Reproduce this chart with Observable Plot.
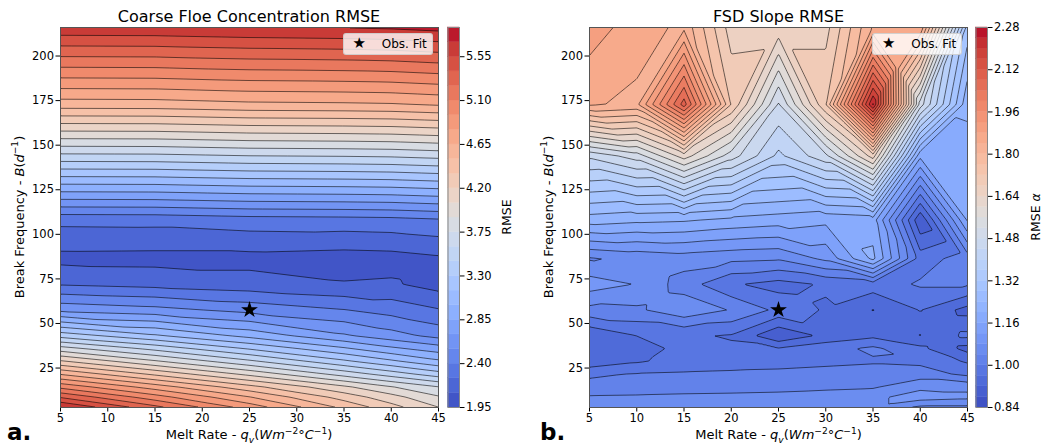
<!DOCTYPE html>
<html><head><meta charset="utf-8">
<script src="https://cdn.jsdelivr.net/npm/d3@7"></script>
<script src="https://cdn.jsdelivr.net/npm/@observablehq/plot@0.6"></script>
<style>
body{margin:0;background:#fff;}
#fig{position:relative;width:1042px;height:446px;overflow:hidden;font-family:"DejaVu Sans",sans-serif;color:#000;}
.t{position:absolute;white-space:nowrap;line-height:1;}
sup,sub{font-size:70%;line-height:0;}
.legend{position:absolute;background:rgba(255,255,255,0.8);border:1px solid rgba(200,200,200,0.8);border-radius:3px;box-sizing:border-box;}
svg{position:absolute;}
</style></head>
<body><div id="fig"></div>
<script>
// ---- data ----
const breakFreq = [216, 172.8, 144, 108, 86.4, 72, 57.6, 43.2, 36, 28.8, 21.6, 14.4, 8.64, 2.88];
// Coarse floe concentration RMSE (rows follow breakFreq, columns follow concMelt)
const concMelt = [5, 15, 25, 35, 40, 45];
const concRMSE = [
  [5.66, 5.665, 5.69, 5.705, 5.72, 5.75],
  [4.575, 4.58, 4.615, 4.625, 4.635, 4.665],
  [3.56, 3.565, 3.598, 3.609, 3.62, 3.649],
  [2.29, 2.295, 2.33, 2.34, 2.35, 2.38],
  [2.055, 2.05, 2.05, 2.03, 2.04, 2.077],
  [2.238, 2.20, 2.16, 2.11, 2.12, 2.04],
  [2.66, 2.60, 2.50, 2.405, 2.34, 2.26],
  [3.39, 3.17, 2.95, 2.72, 2.61, 2.50],
  [3.81, 3.55, 3.28, 3.02, 2.88, 2.77],
  [4.22, 3.92, 3.63, 3.33, 3.18, 3.03],
  [4.64, 4.32, 4.01, 3.69, 3.53, 3.37],
  [5.06, 4.73, 4.40, 4.08, 3.91, 3.755],
  [5.39, 5.02, 4.66, 4.29, 4.11, 3.92],
  [5.72, 5.30, 4.89, 4.47, 4.26, 4.055]
];
// FSD slope RMSE (rows follow breakFreq, columns follow slopeMelt)
const slopeMelt = [5, 10, 15, 20, 25, 30, 35, 40, 45];
const slopeRMSE = [
  [1.90, 1.86, 1.83, 1.66, 1.665, 1.665, 1.845, 1.875, 1.30],
  [1.845, 1.83, 2.10, 1.718, 1.475, 1.718, 2.245, 1.50, 1.21],
  [1.45, 1.50, 1.62, 1.50, 1.39, 1.47, 1.66, 1.17, 1.18],
  [1.22, 1.21, 1.205, 1.19, 1.18, 1.17, 1.18, 0.885, 1.165],
  [1.036, 1.05, 1.06, 1.05, 1.045, 1.09, 1.21, 0.98, 1.02],
  [1.10, 1.078, 1.02, 0.965, 0.945, 0.965, 0.98, 1.005, 1.005],
  [1.028, 1.0325, 1.07, 1.037, 0.99, 0.955, 0.919, 0.962, 0.905],
  [0.925, 0.9605, 0.965, 0.957, 0.885, 0.931, 0.95, 0.919, 0.97],
  [0.922, 0.945, 0.97, 0.965, 0.962, 0.985, 1.008, 0.97, 0.905],
  [0.93, 0.955, 0.975, 0.98, 0.985, 0.99, 0.995, 0.99, 0.955],
  [0.995, 1.002, 1.005, 1.008, 1.01, 1.015, 1.02, 1.02, 0.99],
  [1.01, 1.015, 1.02, 1.022, 1.025, 1.03, 1.035, 1.07, 1.07],
  [1.045, 1.047, 1.05, 1.052, 1.055, 1.062, 1.07, 1.10, 1.09],
  [1.05, 1.055, 1.06, 1.06, 1.06, 1.065, 1.07, 1.03, 1.03]
];
const concLevels = [1.95,2.10,2.25,2.40,2.55,2.70,2.85,3.00,3.15,3.30,3.45,3.60,3.75,3.90,4.05,4.20,4.35,4.50,4.65,4.80,4.95,5.10,5.25,5.40,5.55,5.70,5.85];
const slopeLevels = [0.84,0.88,0.92,0.96,1.00,1.04,1.08,1.12,1.16,1.20,1.24,1.28,1.32,1.36,1.40,1.44,1.48,1.52,1.56,1.60,1.64,1.68,1.72,1.76,1.80,1.84,1.88,1.92,1.96,2.00,2.04,2.08,2.12,2.16,2.20,2.24,2.28];
const concTicks = [1.95,2.40,2.85,3.30,3.75,4.20,4.65,5.10,5.55];
const slopeTicks = [0.84,1.00,1.16,1.32,1.48,1.64,1.80,1.96,2.12,2.28];
const xTicks = [5,10,15,20,25,30,35,40,45];
const yTicks = [25,50,75,100,125,150,175,200];
const obsFit = [{x: 25, y: 57.6}];

// ---- coolwarm colormap anchors ----
const coolwarmStops = [[59,76,192],[68,90,204],[77,104,215],[87,117,225],[98,130,234],[108,142,241],[119,154,247],[130,165,251],[141,176,254],[152,185,255],[163,194,255],[174,201,253],[184,208,249],[194,213,244],[204,217,238],[213,219,230],[221,221,221],[229,216,209],[236,211,197],[241,204,184],[245,196,172],[247,187,160],[247,177,148],[247,166,135],[244,154,123],[241,141,111],[236,127,99],[229,112,88],[222,96,77],[213,80,66],[203,62,56],[192,40,47],[180,4,38]].map(c=>`rgb(${c})`);
const coolwarm = d3.piecewise(d3.interpolateRgb, coolwarmStops);

const fig = document.getElementById("fig");

// grid interpolator: piecewise-linear on triangles per cell (marching-squares-like);
// saddle cells use a centre value (mean of corners) like matplotlib's saddle rule
function gridInterpolator(nx, ny) {
  function seg(a, v) {
    const n = a.length, inc = a[n-1] > a[0];
    let k = 0;
    while (k < n - 2 && (inc ? v > a[k+1] : v < a[k+1])) k++;
    const t = (v - a[k]) / (a[k+1] - a[k]);
    return [k, Math.max(0, Math.min(1, t))];
  }
  return (index, w, h, X, Y, V) => {
    const cx = [], ry = [];
    for (let i = 0; i < nx; i++) cx.push(X[i]);
    for (let j = 0; j < ny; j++) ry.push(Y[j * nx]);
    const G = (i, j) => V[j * nx + i];
    const SX = [], SY = [];
    for (let px = 0; px < w; px++) SX.push(seg(cx, px + 0.5));
    for (let py = 0; py < h; py++) SY.push(seg(ry, py + 0.5));
    const out = new Float64Array(w * h);
    for (let py = 0; py < h; py++) {
      const [j, fy] = SY[py];
      for (let px = 0; px < w; px++) {
        const [i, fx] = SX[px];
        const a = G(i, j), b = G(i+1, j), c = G(i, j+1), d = G(i+1, j+1);
        const m = (a + b + c + d) / 4;
        let v;
        const saddle = (a - m) * (d - m) > 0 && (b - m) * (c - m) > 0 && (a - m) * (b - m) < 0;
        if (saddle) {
          if (fy <= fx && fy <= 1 - fx) v = a * (1 - fx - fy) + b * (fx - fy) + m * 2 * fy;
          else if (fy >= fx && fy >= 1 - fx) { const g = 1 - fy; v = c * (1 - fx - g) + d * (fx - g) + m * 2 * g; }
          else if (fx <= fy && fx <= 1 - fy) v = a * (1 - fy - fx) + c * (fy - fx) + m * 2 * fx;
          else { const k = 1 - fx; v = b * (1 - fy - k) + d * (fy - k) + m * 2 * k; }
        } else {
          const da = Math.abs(a-m), db = Math.abs(b-m), dc = Math.abs(c-m), dd = Math.abs(d-m);
          if (Math.max(da, dd) >= Math.max(db, dc)) {
            if (fx + fy <= 1) v = a + (b - a) * fx + (c - a) * fy;
            else v = d + (c - d) * (1 - fx) + (b - d) * (1 - fy);
          } else {
            if (fx >= fy) v = a + (b - a) * fx + (d - b) * fy;
            else v = a + (d - c) * fx + (c - a) * fy;
          }
        }
        out[py * w + px] = v;
      }
    }
    return out;
  };
}

function colorOpts(levels) {
  const s = levels[1] - levels[0];
  return {type: "linear", domain: [levels[0] - s/2, levels[levels.length-1] - s/2], interpolate: coolwarm, clamp: true};
}

const axisStyle = {fontFamily: "DejaVu Sans", fontSize: "11.5px", color: "black", background: "transparent", overflow: "visible"};

function panel(xs, grid, levels) {
  const data = [];
  breakFreq.forEach((y, j) => xs.forEach((x, i) => data.push({x, y, v: grid[j][i]})));
  const interp = gridInterpolator(xs.length, breakFreq.length);
  return Plot.plot({
    width: 439, height: 446, marginLeft: 60, marginRight: 1, marginTop: 27, marginBottom: 39,
    style: axisStyle,
    x: {domain: [5, 45], ticks: xTicks, tickSize: 4.5, tickPadding: 2, label: null},
    y: {domain: [2.88, 216], ticks: yTicks, tickSize: 4.5, tickPadding: 2, label: null},
    color: colorOpts(levels),
    marks: [
      Plot.contour(data, {x: "x", y: "y", fill: "v", thresholds: levels, interpolate: interp, pixelSize: 1, stroke: "none"}),
      Plot.contour(data, {x: "x", y: "y", value: "v", thresholds: levels.slice(1), interpolate: interp, pixelSize: 1, fill: "none", stroke: "black", strokeWidth: 0.7, strokeOpacity: 0.8, clip: "frame"}),
      Plot.frame({stroke: "#555", strokeWidth: 1}),
      Plot.dot(obsFit, {x: "x", y: "y", symbol: "star", r: 5.3, fill: "black", stroke: "none"})
    ]
  });
}

function colorbar(levels, ticks) {
  const bands = levels.slice(0, -1).map((lo, i) => ({lo, hi: levels[i+1]}));
  return Plot.plot({
    width: 62, height: 446, marginLeft: 0.5, marginRight: 50, marginTop: 27, marginBottom: 39,
    style: axisStyle,
    x: {axis: null, domain: [0, 1]},
    y: {domain: [levels[0], levels[levels.length-1]], ticks, tickFormat: ".2f", axis: "right", label: null, tickSize: 4.5, tickPadding: 2},
    color: colorOpts(levels),
    marks: [
      Plot.rect(bands, {x1: 0, x2: 1, y1: "lo", y2: "hi", fill: "lo", stroke: "lo", strokeWidth: 0.4}),
      Plot.frame({stroke: "#888", strokeWidth: 1})
    ]
  });
}

function place(el, left, top) { el.style.left = left + "px"; el.style.top = top + "px"; fig.appendChild(el); }

place(panel(concMelt, concRMSE, concLevels), 0, 0);
place(colorbar(concLevels, concTicks), 446.5, 0);
place(panel(slopeMelt, slopeRMSE, slopeLevels), 529, 0);
place(colorbar(slopeLevels, slopeTicks), 975, 0);

function txt(html, x, baseline, size, {anchor = "middle", weight = "normal", rotate = false} = {}) {
  const d = document.createElement("div");
  d.className = "t";
  d.innerHTML = html;
  d.style.fontSize = size + "px";
  d.style.fontWeight = weight;
  if (rotate) {
    d.style.left = x + "px"; d.style.top = baseline + "px";
    d.style.transform = "translate(-50%,-50%) rotate(-90deg)";
  } else {
    d.style.top = (baseline - 0.846 * size) + "px";
    d.style.left = x + "px";
    if (anchor === "middle") d.style.transform = "translateX(-50%)";
  }
  fig.appendChild(d);
  return d;
}

txt("Coarse Floe Concentration RMSE", 249, 23, 16);
txt("FSD Slope RMSE", 778.5, 23, 16);
const xlab = 'Melt Rate - <i>q</i><sub><i>v</i></sub>(<i>Wm</i><sup>−2</sup>°<i>C</i><sup>−1</sup>)';
txt(xlab, 249, 439, 13);
txt(xlab, 778.5, 439, 13);
const ylab = 'Break Frequency - <i>B</i>(<i>d</i><sup>−1</sup>)';
txt(ylab, 19, 217, 13, {rotate: true});
txt(ylab, 548, 217, 13, {rotate: true});
txt("RMSE", 507, 217, 12.5, {rotate: true});
txt("RMSE <i>α</i>", 1036, 217, 12.5, {rotate: true});
txt("a.", 7, 440, 23, {anchor: "start", weight: "bold"});
txt("b.", 540, 440, 23, {anchor: "start", weight: "bold"});

function legend(left) {
  const box = document.createElement("div");
  box.className = "legend";
  box.style.left = left + "px"; box.style.top = "33px";
  box.style.width = "90px"; box.style.height = "21.5px";
  fig.appendChild(box);
  txt("★", left + 16.5, 49, 15);
  txt("Obs. Fit", left + 39, 48.5, 12, {anchor: "start"});
}
legend(342.7);
legend(872.3);
</script></body></html>
